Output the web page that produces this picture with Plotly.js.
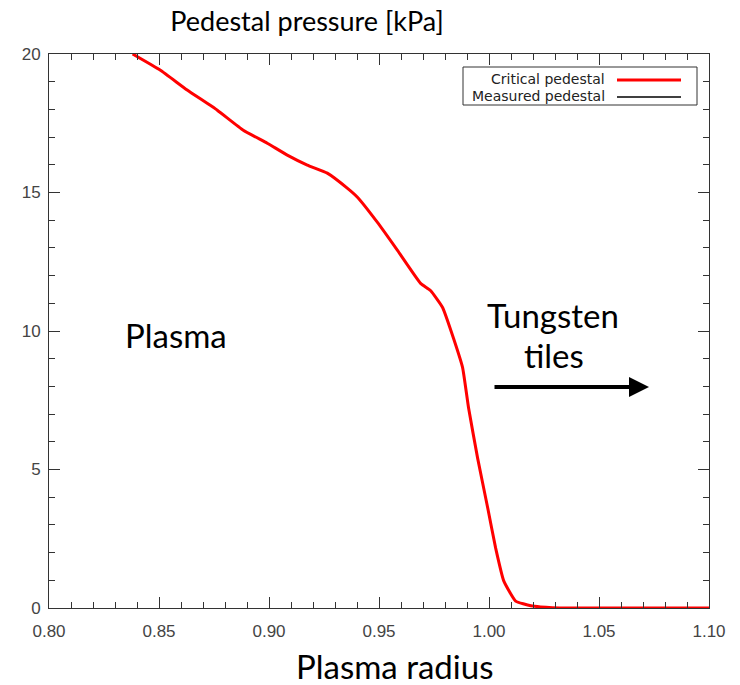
<!DOCTYPE html>
<html>
<head>
<meta charset="utf-8">
<script src="https://cdn.plot.ly/plotly-3.0.1.min.js"></script>
<style>html,body{margin:0;padding:0;background:#fff;}#chart{width:740px;height:685px;}</style>
</head>
<body>
<div id="chart"></div>
<script>
// Critical pedestal pressure profile
const radius = [0.838, 0.8505, 0.8628, 0.8765, 0.8883, 0.8992, 0.9083, 0.9174, 0.9265, 0.9357, 0.9402, 0.9493, 0.9584, 0.9689, 0.9734, 0.9789, 0.9839, 0.988, 0.9907, 0.9948, 0.9994, 1.003, 1.0067, 1.0121, 1.019, 1.0235, 1.036, 1.06, 1.08, 1.10];
const pressure = [20.0, 19.42, 18.70, 17.97, 17.25, 16.78, 16.35, 15.99, 15.70, 15.15, 14.83, 13.92, 12.91, 11.72, 11.46, 10.85, 9.73, 8.68, 7.23, 5.42, 3.62, 2.17, 0.98, 0.25, 0.08, 0.04, 0.0, 0.0, 0.0, 0.0];
const xTickVals = [0.80, 0.85, 0.90, 0.95, 1.00, 1.05, 1.10];
const xTickText = ["0.80", "0.85", "0.90", "0.95", "1.00", "1.05", "1.10"];
const yTickVals = [0, 5, 10, 15, 20];
const yTickText = ["0", "5", "10", "15", "20"];
const legendNames = ["Critical pedestal", "Measured pedestal"];
const legendColors = ["#ff0000", "#000000"];

const L = 49, R = 709, T = 54, B = 608, W = 740, H = 685;
const px = v => (v - L) / (R - L);
const py = v => (B - v) / (B - T);

const traces = [{
  x: radius, y: pressure, type: 'scatter', mode: 'lines',
  name: legendNames[0],
  line: {color: legendColors[0], width: 3, shape: 'spline', smoothing: 0.4},
  showlegend: false, hoverinfo: 'skip'
}];

const tickFont = {family: 'Liberation Sans, Arial, sans-serif', size: 17, color: '#444'};
const bigFont = {family: 'Lato, Noto Sans, sans-serif', size: 33, color: '#000'};
const legFont = {family: 'DejaVu Sans, sans-serif', size: 14, color: '#222'};

const shapes = [
  {type: 'rect', xref: 'paper', yref: 'paper', x0: px(463), x1: px(697), y0: py(105), y1: py(67),
   line: {color: '#333', width: 1}, fillcolor: 'rgba(255,255,255,0)'},
  {type: 'line', xref: 'paper', yref: 'paper', x0: px(617), x1: px(681), y0: py(80), y1: py(80),
   line: {color: legendColors[0], width: 3}},
  {type: 'line', xref: 'paper', yref: 'paper', x0: px(617), x1: px(681), y0: py(97), y1: py(97),
   line: {color: legendColors[1], width: 1.5}}
];

const annotations = [
  {text: legendNames[0], xref: 'paper', yref: 'paper', x: px(607), y: py(79), xanchor: 'right', yanchor: 'middle',
   showarrow: false, font: legFont},
  {text: legendNames[1], xref: 'paper', yref: 'paper', x: px(607), y: py(96), xanchor: 'right', yanchor: 'middle',
   showarrow: false, font: legFont},
  {text: 'Plasma', xref: 'paper', yref: 'paper', x: px(176), y: py(335), xanchor: 'center', yanchor: 'middle',
   showarrow: false, font: bigFont},
  {text: 'Tungsten', xref: 'paper', yref: 'paper', x: px(553), y: py(315), xanchor: 'center', yanchor: 'middle',
   showarrow: false, font: bigFont},
  {text: 'tiles', xref: 'paper', yref: 'paper', x: px(554), y: py(355), xanchor: 'center', yanchor: 'middle',
   showarrow: false, font: bigFont},
  {text: 'Plasma radius', xref: 'paper', yref: 'paper', x: px(394), y: py(666), xanchor: 'center', yanchor: 'middle',
   showarrow: false, font: bigFont},
  {text: '', xref: 'paper', yref: 'paper', x: px(649), y: py(387), axref: 'paper', ayref: 'paper',
   ax: px(493), ay: py(387), showarrow: true, arrowhead: 2, arrowwidth: 4, arrowsize: 1.0, arrowcolor: '#000'}
];

const layout = {
  width: W, height: H,
  margin: {l: L, r: W - R, t: T, b: H - B, pad: 0},
  paper_bgcolor: '#ffffff', plot_bgcolor: '#ffffff',
  showlegend: false,
  title: {text: 'Pedestal pressure [kPa]', x: 307 / W, xanchor: 'center', xref: 'container',
          y: 1 - 22 / H, yanchor: 'middle', yref: 'container', font: {family: 'Lato, Noto Sans, sans-serif', size: 27, color: '#000'}},
  xaxis: {range: [0.8, 1.1], tickvals: xTickVals, ticktext: xTickText, ticks: 'inside', ticklen: 11, tickcolor: '#333',
          tickwidth: 1, showline: true, linecolor: '#333', linewidth: 1, mirror: 'ticks', showgrid: false, zeroline: false,
          tickfont: tickFont, ticklabelstandoff: 8,
          minor: {dtick: 0.01, tick0: 0.8, ticks: 'inside', ticklen: 6, tickcolor: '#333', showgrid: false}},
  yaxis: {range: [0, 20], tickvals: yTickVals, ticktext: yTickText, ticks: 'inside', ticklen: 11, tickcolor: '#333',
          tickwidth: 1, showline: true, linecolor: '#333', linewidth: 1, mirror: 'ticks', showgrid: false, zeroline: false,
          tickfont: tickFont, ticklabelstandoff: 4,
          minor: {dtick: 1, tick0: 0, ticks: 'inside', ticklen: 6, tickcolor: '#333', showgrid: false}},
  shapes: shapes,
  annotations: annotations
};

Plotly.newPlot('chart', traces, layout, {displayModeBar: false, staticPlot: true});
</script>
</body>
</html>
